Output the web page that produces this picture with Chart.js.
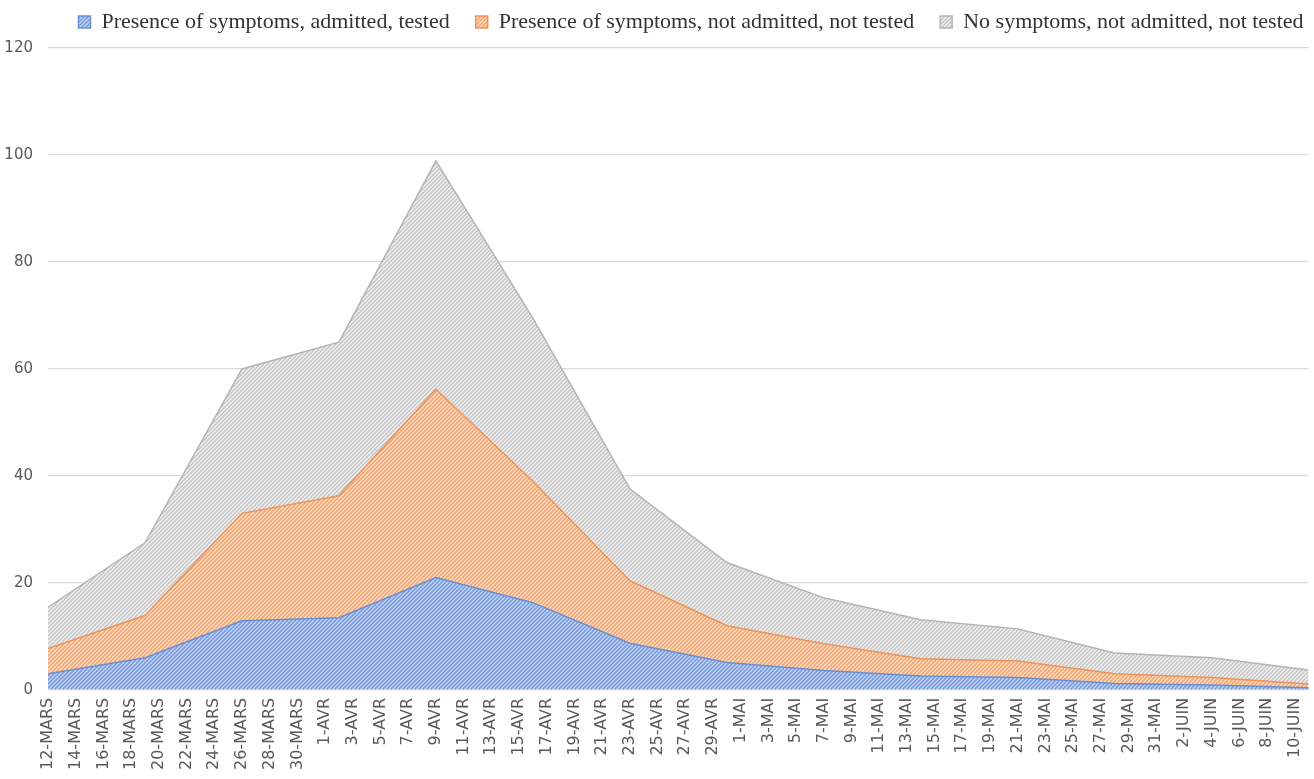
<!DOCTYPE html>
<html>
<head>
<meta charset="utf-8">
<script src="https://cdn.jsdelivr.net/npm/chart.js@4.4.1/dist/chart.umd.min.js"></script>
<style>
  html, body { margin: 0; padding: 0; background: #fff; }
  #wrap { width: 1314px; height: 779px; }
</style>
</head>
<body>
<div id="wrap"><canvas id="myChart"></canvas></div>
<script>
// tick labels on the x axis (one every second day)
const tickLabels = [
  '12-MARS', '14-MARS', '16-MARS', '18-MARS', '20-MARS', '22-MARS', '24-MARS', '26-MARS', '28-MARS', '30-MARS',
  '1-AVR', '3-AVR', '5-AVR', '7-AVR', '9-AVR', '11-AVR', '13-AVR', '15-AVR', '17-AVR', '19-AVR',
  '21-AVR', '23-AVR', '25-AVR', '27-AVR', '29-AVR',
  '1-MAI', '3-MAI', '5-MAI', '7-MAI', '9-MAI', '11-MAI', '13-MAI', '15-MAI', '17-MAI', '19-MAI',
  '21-MAI', '23-MAI', '25-MAI', '27-MAI', '29-MAI', '31-MAI',
  '2-JUIN', '4-JUIN', '6-JUIN', '8-JUIN', '10-JUIN'
];

// weekly readings, in days after 12 March
const weekDays = [0, 7, 14, 21, 28, 35, 42, 49, 56, 63, 70, 77, 84, 91];

const admittedTested    = [3.0, 6.0, 12.9, 13.5, 21.0, 16.3, 8.7, 5.1, 3.6, 2.6, 2.3, 1.2, 0.9, 0.4];
const symptomsNoTest    = [4.7, 7.9, 20.1, 22.8, 35.2, 22.7, 11.7, 6.9, 5.0, 3.2, 3.1, 1.8, 1.4, 0.7];
const noSymptomsNoTest  = [7.7, 13.6, 27.0, 28.7, 42.7, 30.5, 17.2, 11.8, 8.6, 7.3, 6.0, 3.9, 3.7, 2.6];

const seriesNames = [
  'Presence of symptoms, admitted, tested',
  'Presence of symptoms, not admitted, not tested',
  'No symptoms, not admitted, not tested'
];

// small striped tile used as fill
function hatch(bg, fg) {
  const c = document.createElement('canvas');
  c.width = 4;
  c.height = 4;
  const g = c.getContext('2d');
  g.fillStyle = bg;
  g.fillRect(0, 0, 4, 4);
  g.strokeStyle = fg;
  g.lineWidth = 1.3;
  g.beginPath();
  g.moveTo(-1, 5); g.lineTo(5, -1);
  g.moveTo(-1, 1); g.lineTo(1, -1);
  g.moveTo(3, 5); g.lineTo(5, 3);
  g.stroke();
  return g.createPattern(c, 'repeat');
}

function points(values) {
  return values.map((v, i) => ({x: weekDays[i], y: v}));
}

const chart = new Chart('myChart', {
  type: 'line',
  data: {
    datasets: [{
      label: seriesNames[0],
      data: points(admittedTested),
      backgroundColor: hatch('#c2d2f3', '#7096dc'),
      borderColor: '#6a8fd6',
      borderWidth: 1.5,
      fill: 'origin'
    }, {
      label: seriesNames[1],
      data: points(symptomsNoTest),
      backgroundColor: hatch('#fcdcc4', '#f3a066'),
      borderColor: '#ef9358',
      borderWidth: 1.5,
      fill: '-1'
    }, {
      label: seriesNames[2],
      data: points(noSymptomsNoTest),
      backgroundColor: hatch('#f1f1f1', '#c2c2c2'),
      borderColor: '#b5b5b5',
      borderWidth: 1.5,
      fill: '-1'
    }]
  },
  options: {
    responsive: true,
    maintainAspectRatio: false,
    animation: false,
    elements: {point: {radius: 0}, line: {tension: 0}},
    layout: {padding: {top: -10, left: 0, right: 0, bottom: 9}},
    plugins: {
      tooltip: {enabled: false},
      legend: {
        position: 'top',
        labels: {
          boxWidth: 12,
          boxHeight: 12,
          padding: 26,
          color: '#333',
          font: {family: 'Liberation Serif', size: 22}
        }
      }
    },
    scales: {
      x: {
        type: 'linear',
        min: 0,
        max: 91,
        grid: {display: false},
        border: {display: false},
        ticks: {
          stepSize: 2,
          includeBounds: false,
          autoSkip: false,
          maxRotation: 90,
          minRotation: 90,
          padding: 0,
          color: '#595959',
          font: {family: 'DejaVu Sans', size: 16},
          callback: v => tickLabels[v / 2]
        }
      },
      y: {
        stacked: true,
        min: 0,
        max: 120,
        afterFit: s => { s.width = 48; },
        grid: {color: '#d9d9d9', lineWidth: 1.2, drawTicks: false},
        border: {display: false},
        ticks: {stepSize: 20, padding: 15, color: '#595959', font: {family: 'DejaVu Sans', size: 15}}
      }
    }
  }
});

// the legend sits a little right of centre and above its box in the original
const drawLegend = chart.legend.draw.bind(chart.legend);
chart.legend.draw = function () {
  chart.ctx.save();
  chart.ctx.translate(34, -5);
  drawLegend();
  chart.ctx.restore();
};
chart.draw();
</script>
</body>
</html>
